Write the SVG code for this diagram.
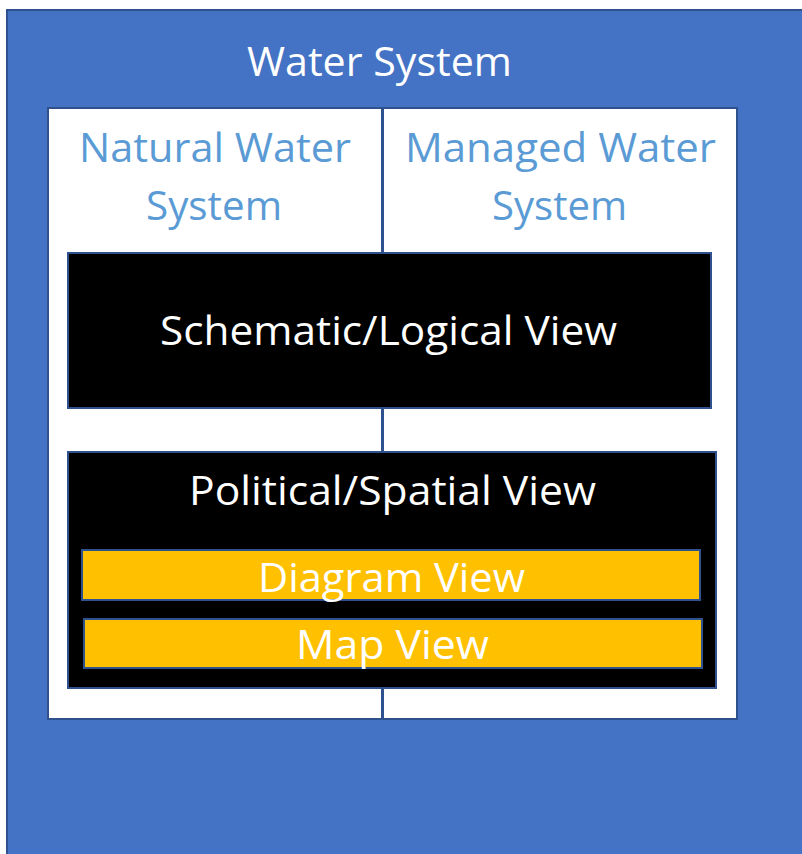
<svg xmlns="http://www.w3.org/2000/svg" width="802" height="854" viewBox="0 0 802 854">
  <style>
    .frame { stroke: #2F528F; stroke-width: 2; }
    .sys { fill: #4472C4; }
    .panel { fill: #FFFFFF; }
    .view { fill: #000000; }
    .sub { fill: #FFC000; }
    text { font-family: "Open Sans", "Liberation Sans", sans-serif; font-size: 40px; text-anchor: middle; }
    .light { fill: #FFFFFF; }
    .blue { fill: #5B9BD5; }
    .link { stroke: #2F528F; stroke-width: 2.5; fill: none; }
  </style>

  <g id="water-system">
    <rect class="sys frame" x="7" y="10" width="806" height="856"/>
    <text class="light" x="379.5" y="76" textLength="265" lengthAdjust="spacingAndGlyphs">Water System</text>
  </g>

  <g id="natural-water-system">
    <rect class="panel frame" x="48" y="108" width="334" height="611"/>
    <text class="blue" x="215" y="162" textLength="272" lengthAdjust="spacingAndGlyphs">Natural Water</text>
    <text class="blue" x="214" y="220" textLength="136" lengthAdjust="spacingAndGlyphs">System</text>
  </g>

  <g id="managed-water-system">
    <rect class="panel frame" x="383" y="108" width="354" height="611"/>
    <text class="blue" x="560.5" y="162" textLength="311" lengthAdjust="spacingAndGlyphs">Managed Water</text>
    <text class="blue" x="559.5" y="220" textLength="135" lengthAdjust="spacingAndGlyphs">System</text>
  </g>

  <g id="connectors">
    <line class="link" x1="382.5" y1="108" x2="382.5" y2="719"/>
  </g>

  <g id="schematic-logical-view">
    <rect class="view frame" x="68" y="253" width="643" height="155"/>
    <text class="light" x="388.5" y="345" textLength="457" lengthAdjust="spacingAndGlyphs">Schematic/Logical View</text>
  </g>

  <g id="political-spatial-view">
    <rect class="view frame" x="68" y="452" width="648" height="236"/>
    <text class="light" x="392.5" y="505" textLength="407" lengthAdjust="spacingAndGlyphs">Political/Spatial View</text>
  </g>

  <g id="diagram-view">
    <rect class="sub frame" x="82" y="550" width="618" height="50"/>
    <text class="light" x="391.5" y="592" textLength="267" lengthAdjust="spacingAndGlyphs">Diagram View</text>
  </g>

  <g id="map-view">
    <rect class="sub frame" x="84" y="619" width="618" height="49"/>
    <text class="light" x="392.5" y="659" textLength="193" lengthAdjust="spacingAndGlyphs">Map View</text>
  </g>
</svg>
